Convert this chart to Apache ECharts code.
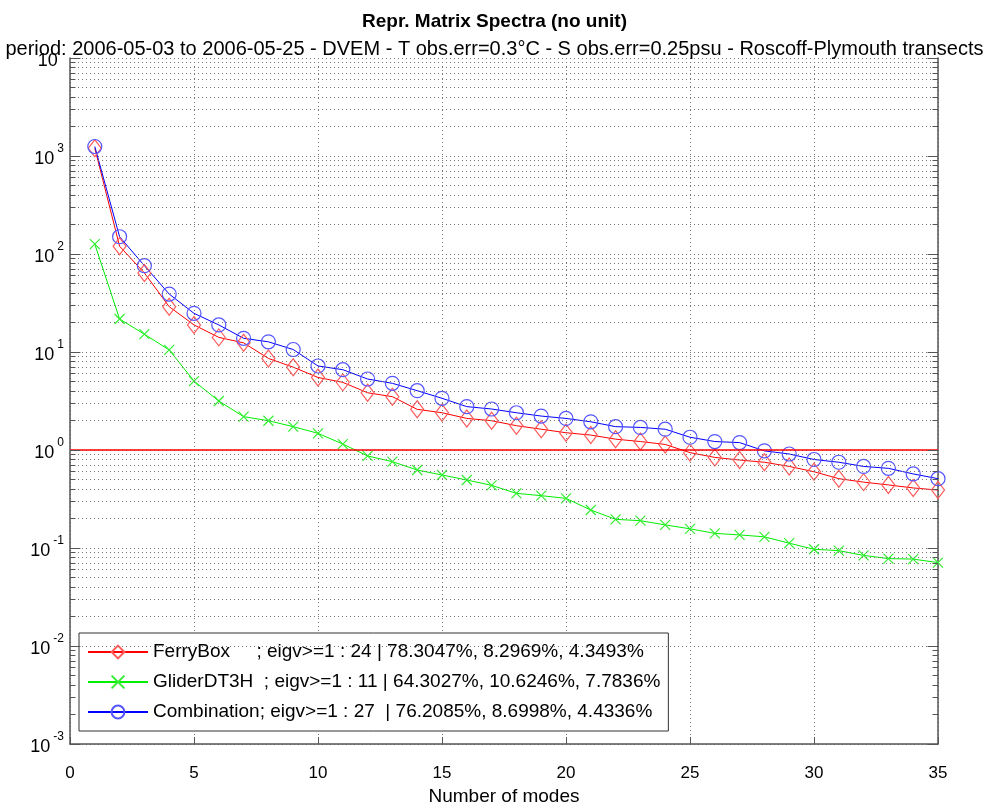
<!DOCTYPE html>
<html>
<head>
<meta charset="utf-8">
<script src="https://cdn.jsdelivr.net/npm/echarts@6/dist/echarts.min.js"></script>
<style>
  html, body { margin: 0; padding: 0; background: #fff; }
  #main { width: 989px; height: 805px; }
</style>
</head>
<body>
<div id="main"></div>
<script>
// number of modes (x)
var modes = [1,2,3,4,5,6,7,8,9,10,11,12,13,14,15,16,17,18,19,20,21,22,23,24,25,26,27,28,29,30,31,32,33,34,35];

// eigenvalues
var ferryBox = [1200, 120, 64, 29, 18.9, 14.1, 12.4, 8.6, 7.0, 5.5, 4.9, 3.84, 3.5, 2.6, 2.4, 2.1, 1.99, 1.77, 1.63, 1.5, 1.42, 1.29, 1.22, 1.14, 0.94, 0.84, 0.79, 0.75, 0.68, 0.6, 0.51, 0.47, 0.44, 0.41, 0.39];
var glider = [126, 21.7, 15.2, 10.5, 5.05, 3.16, 2.19, 1.99, 1.73, 1.48, 1.15, 0.87, 0.76, 0.625, 0.556, 0.494, 0.436, 0.361, 0.342, 0.321, 0.244, 0.196, 0.19, 0.172, 0.157, 0.141, 0.136, 0.13, 0.112, 0.097, 0.094, 0.084, 0.078, 0.077, 0.071];
var combination = [1250, 150, 76, 39, 24.8, 18.9, 13.8, 12.7, 10.6, 7.2, 6.6, 5.3, 4.79, 4.03, 3.37, 2.77, 2.62, 2.4, 2.22, 2.1, 1.94, 1.73, 1.7, 1.63, 1.35, 1.22, 1.19, 0.98, 0.91, 0.8, 0.75, 0.68, 0.65, 0.57, 0.51];

var seriesNames = [
  'FerryBox     ; eigv>=1 : 24 | 78.3047%, 8.2969%, 4.3493%',
  'GliderDT3H  ; eigv>=1 : 11 | 64.3027%, 10.6246%, 7.7836%',
  'Combination; eigv>=1 : 27  | 76.2085%, 8.6998%, 4.4336%'
];

var titleText = 'Repr. Matrix Spectra (no unit)';
var subTitleText = 'period: 2006-05-03 to 2006-05-25 - DVEM - T obs.err=0.3\u00B0C - S obs.err=0.25psu - Roscoff-Plymouth transects';
var xName = 'Number of modes';

// threshold eigv = 1
var threshold = 1;

// decades of the log axis and the minor (2..9) levels
var decades = [-3, -2, -1, 0, 1, 2, 3];
var minorMult = [2, 3, 4, 5, 6, 7, 8, 9];

function pairs(vals) {
  var out = [];
  for (var i = 0; i < vals.length; i++) out.push([modes[i], vals[i]]);
  return out;
}

var font = '"Liberation Sans", Arial, Helvetica, sans-serif';
var axisCol = '#555';
var gridCol = '#777';

// minor gridlines + little ticks on both sides
var minorGrid = [];
var tickMarks = [];
decades.forEach(function (d) {
  minorMult.forEach(function (m) {
    var v = m * Math.pow(10, d);
    minorGrid.push({ yAxis: v });
    tickMarks.push([{ coord: [0, v] }, { coord: [0.22, v] }]);
    tickMarks.push([{ coord: [35, v] }, { coord: [34.78, v] }]);
  });
});
for (var k = -3; k <= 4; k++) {
  var v = Math.pow(10, k);
  tickMarks.push([{ coord: [0, v] }, { coord: [0.42, v] }]);
  tickMarks.push([{ coord: [35, v] }, { coord: [34.58, v] }]);
}

var myChart = echarts.init(document.getElementById('main'));

var option = {
  backgroundColor: '#fff',
  animation: false,
  textStyle: { fontFamily: font },
  title: [
    { text: titleText, left: 'center', top: 7,
      textStyle: { fontFamily: font, fontSize: 19, fontWeight: 'bold', color: '#000' } },
    { text: subTitleText, left: 'center', top: 34,
      textStyle: { fontFamily: font, fontSize: 20, fontWeight: 'normal', color: '#000' } }
  ],
  legend: {
    orient: 'vertical',
    left: 79,
    top: 633,
    padding: [9, 8, 9, 8],
    itemGap: 10,
    itemWidth: 60,
    itemHeight: 16,
    backgroundColor: '#fff',
    borderColor: '#333',
    borderWidth: 1,
    borderRadius: 0,
    textStyle: { fontFamily: font, fontSize: 19, color: '#000', lineHeight: 20 },
    data: seriesNames
  },
  grid: { left: 70, right: 51, top: 58, bottom: 61, containLabel: false, outerBoundsMode: 'none' },
  xAxis: {
    type: 'value',
    min: 0, max: 35, interval: 5,
    name: xName,
    nameLocation: 'middle',
    nameGap: 40,
    nameTextStyle: { fontFamily: font, fontSize: 19, color: '#000' },
    axisLine: { show: true, onZero: false, lineStyle: { color: axisCol, width: 1.5 } },
    axisTick: { show: true, inside: true, length: 7, lineStyle: { color: axisCol } },
    axisLabel: { fontFamily: font, fontSize: 17, color: '#000', margin: 21 },
    splitLine: { show: true, lineStyle: { color: gridCol, type: [1, 3], width: 1 } }
  },
  yAxis: [
    {
      type: 'log',
      logBase: 10,
      min: 0.001, max: 10000,
      interval: 1,
      axisLine: { show: true, onZero: false, lineStyle: { color: axisCol, width: 1.5 } },
      axisTick: { show: false },
      axisLabel: {
        margin: 6,
        formatter: function (val) {
          var e = Math.round(Math.log10(val));
          if (e === 4) return '{b|10}{s| }';
          return '{b|10}{e|' + e + '}';
        },
        rich: {
          b: { fontFamily: font, fontSize: 18, color: '#000', padding: [6, 0, 0, 0] },
          e: { fontFamily: font, fontSize: 12, color: '#000', padding: [0, 0, 14, 3] },
          s: { fontFamily: font, fontSize: 12, padding: [0, 0, 14, 3] }
        }
      },
      splitLine: { show: true, lineStyle: { color: gridCol, type: [1, 3], width: 1 } }
    },
    {
      type: 'log',
      logBase: 10,
      min: 0.001, max: 10000,
      interval: 1,
      position: 'right',
      axisLine: { show: true, onZero: false, lineStyle: { color: axisCol, width: 1.5 } },
      axisTick: { show: false },
      axisLabel: { show: false },
      splitLine: { show: false }
    }
  ],
  series: [
    {
      name: 'grid-helper',
      type: 'line',
      data: [],
      silent: true,
      z: 1,
      markLine: {
        silent: true,
        symbol: 'none',
        label: { show: false },
        animation: false,
        data: minorGrid,
        lineStyle: { color: gridCol, type: [1, 3], width: 1 }
      }
    },
    {
      name: 'tick-helper',
      type: 'line',
      data: [],
      silent: true,
      z: 1,
      markLine: {
        silent: true,
        symbol: 'none',
        label: { show: false },
        animation: false,
        data: tickMarks,
        lineStyle: { color: axisCol, type: 'solid', width: 1 }
      }
    },
    {
      name: 'threshold',
      type: 'line',
      data: [[0, threshold], [35, threshold]],
      symbol: 'none',
      silent: true,
      color: '#ff0000',
      z: 4,
      lineStyle: { color: '#ff0000', width: 1.3 }
    },
    {
      name: seriesNames[0],
      type: 'line',
      data: pairs(ferryBox),
      symbol: 'diamond',
      symbolSize: [13, 17],
      z: 3,
      lineStyle: { color: '#ff0000', width: 1 },
      itemStyle: { color: 'rgba(0,0,0,0)', borderColor: '#ff5a5a', borderWidth: 1.2 }
    },
    {
      name: seriesNames[1],
      type: 'line',
      data: pairs(glider),
      symbol: 'path://M0,0L10,10M10,0L0,10',
      symbolSize: 10,
      z: 3,
      lineStyle: { color: '#00ee00', width: 1 },
      itemStyle: { color: 'rgba(0,0,0,0)', borderColor: '#33ee33', borderWidth: 1.2 }
    },
    {
      name: seriesNames[2],
      type: 'line',
      data: pairs(combination),
      symbol: 'circle',
      symbolSize: 14,
      z: 3,
      lineStyle: { color: '#0000ff', width: 1 },
      itemStyle: { color: 'rgba(0,0,0,0)', borderColor: '#5555ff', borderWidth: 1.2 }
    }
  ]
};

myChart.setOption(option);
</script>
</body>
</html>
